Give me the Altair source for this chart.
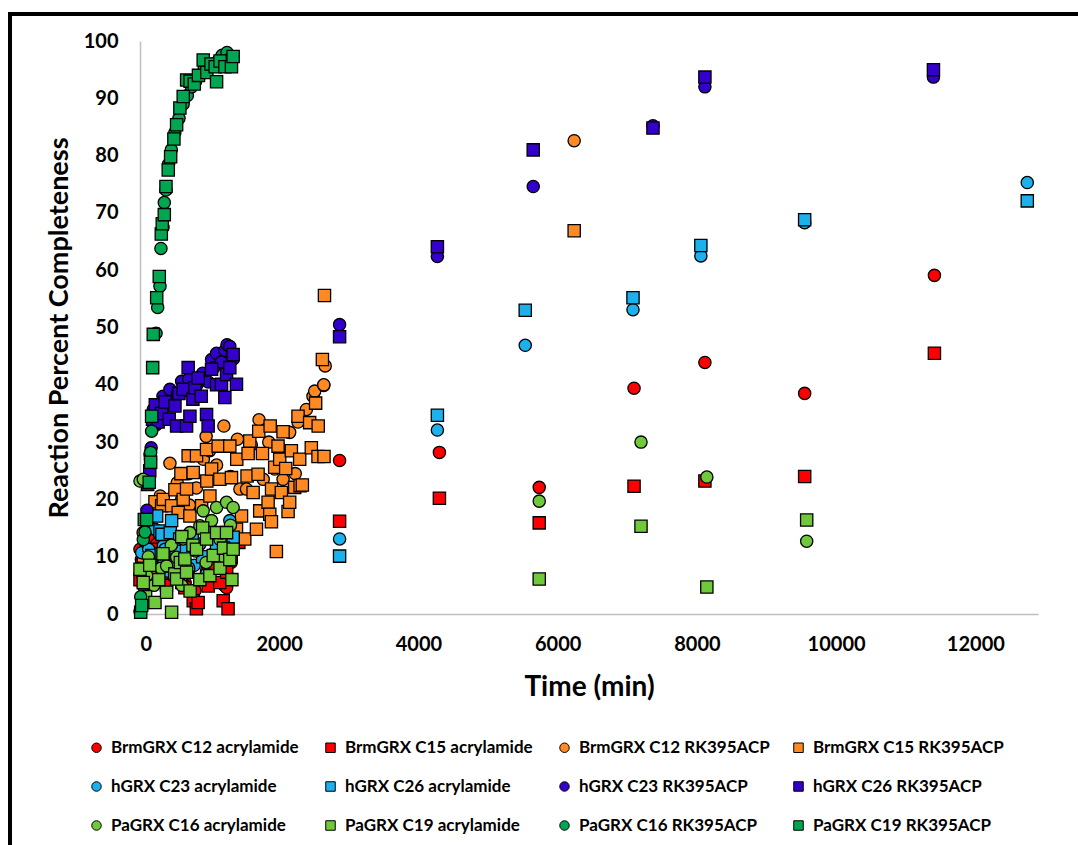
import altair as alt
import pandas as pd

SERIES = [
    "BrmGRX C12 acrylamide", "BrmGRX C15 acrylamide", "BrmGRX C12 RK395ACP", "BrmGRX C15 RK395ACP",
    "hGRX C23 acrylamide", "hGRX C26 acrylamide", "hGRX C23 RK395ACP", "hGRX C26 RK395ACP",
    "PaGRX C16 acrylamide", "PaGRX C19 acrylamide", "PaGRX C16 RK395ACP", "PaGRX C19 RK395ACP",
]
COLORS = ["#FF0000", "#FF0000", "#FF8A24", "#FF8A24",
          "#1CB0EC", "#1CB0EC", "#3300CC", "#3300CC",
          "#70C93A", "#70C93A", "#00A650", "#00A650"]
SHAPES = ["circle", "square"] * 6

# ---- data: time (min), reaction percent completeness ----
brm_c12_acr_t = [0, 20, 45, 90, 140, 165, 240, 290, 335, 430, 500, 575, 645, 715, 790, 860, 955, 1030, 1120, 1220, 1245, 1310,
                 2867, 4301, 5735, 7097, 8115, 9548, 11412]
brm_c12_acr_v = [11.3, 9.5, 7.0, 12.0, 13.0, 10.5, 12.2, 9.0, 8.0, 6.5, 9.5, 7.5, 5.5, 8.0, 4.1, 6.0, 7.5, 5.5, 8.5, 4.9, 4.6, 9.0,
                 26.8, 28.2, 22.1, 39.4, 43.9, 38.5, 59.1]

brm_c15_acr_t = [0, 25, 50, 100, 170, 240, 310, 380, 455, 525, 600, 645, 765, 810, 835, 980, 1050, 1145, 1195, 1245, 1265, 1310, 1420,
                 2867, 4301, 5735, 7097, 8115, 9548, 11412]
brm_c15_acr_v = [6.0, 8.5, 10.0, 7.0, 9.0, 11.3, 6.5, 5.0, 8.0, 7.0, 5.5, 4.6, 2.3, 0.9, 2.0, 4.9, 8.0, 5.5, 2.3, 7.3, 0.9, 10.0, 12.5,
                 16.2, 20.2, 15.9, 22.3, 23.2, 24.0, 45.5]

brm_c12_rk_t = [45, 120, 190, 290, 310, 430, 535, 600, 700, 710, 810, 910, 950, 1000, 1100, 1205, 1300, 1400, 1435, 1530, 1600,
                1710, 1770, 1850, 1935, 2000, 2055, 2150, 2230, 2270, 2390, 2485, 2510, 2640, 2660, 2640, 6237]
brm_c12_rk_v = [14.2, 16.5, 17.7, 20.6, 18.9, 26.3, 22.9, 20.0, 24.5, 19.0, 22.0, 27.0, 31.0, 28.5, 26.0, 32.8, 24.0, 30.5, 21.8, 21.8, 29.5,
                33.9, 23.5, 30.0, 25.3, 29.0, 23.5, 31.7, 24.5, 33.5, 35.7, 38.0, 38.9, 39.9, 43.3, 40.0, 82.6]

brm_c15_rk_t = [50, 143, 215, 311, 334, 454, 502, 549, 588, 621, 669, 692, 717, 764, 812, 885, 956, 960, 1004, 1028, 1123, 1147,
                1290, 1314, 1386, 1390, 1458, 1505, 1538, 1553, 1577, 1625, 1673, 1696, 1706, 1720, 1759, 1840, 1864, 1870,
                1888, 1890, 1935, 1959, 1983, 2007, 2031, 2055, 2093, 2127, 2150, 2174, 2222, 2270, 2294, 2300, 2332, 2437,
                2461, 2523, 2557, 2560, 2643, 2620, 2650, 6237]
brm_c15_rk_v = [10.0, 6.7, 19.6, 18.9, 20.0, 18.9, 21.7, 17.7, 24.5, 20.0, 21.8, 27.6, 17.1, 24.7, 27.6, 18.9, 28.7, 23.2, 20.6, 25.3, 29.3, 23.5,
                29.3, 23.8, 14.8, 27.0, 17.1, 13.1, 24.1, 28.0, 30.2, 21.2, 14.8, 24.4, 31.9, 18.0, 28.0, 19.5, 17.4, 32.8,
                16.1, 21.8, 25.6, 10.9, 29.3, 27.0, 21.2, 31.8, 25.4, 17.9, 19.5, 28.5, 22.1, 34.5, 27.0, 22.4, 22.5, 33.4,
                29.0, 36.8, 27.5, 32.8, 27.5, 44.4, 55.6, 66.9]

h_c23_acr_t = [24, 119, 125, 215, 250, 334, 358, 400, 502, 621, 700, 780, 860, 956, 1050, 1150, 1195, 1290,
               2867, 4272, 5534, 7082, 8057, 9548, 12746]
h_c23_acr_v = [10.7, 14.8, 11.3, 14.8, 9.0, 11.9, 11.3, 7.5, 8.7, 9.9, 12.0, 8.5, 12.2, 7.0, 10.5, 9.5, 13.9, 16.3,
               13.1, 32.1, 46.9, 53.1, 62.5, 68.3, 75.3]

h_c26_acr_t = [60, 160, 170, 239, 287, 305, 315, 425, 435, 454, 520, 570, 580, 669, 750, 900, 1000, 1100, 1200, 1338,
               2867, 4272, 5534, 7082, 8057, 9548, 12746]
h_c26_acr_v = [8.0, 9.6, 10.2, 17.1, 14.5, 10.5, 13.9, 8.4, 14.2, 16.3, 11.0, 13.1, 6.7, 11.6, 13.5, 10.0, 14.5, 12.0, 9.5, 13.4,
               10.1, 34.7, 53.0, 55.2, 64.3, 68.8, 72.1]

h_c23_rk_t = [47, 100, 150, 160, 191, 230, 287, 330, 380, 430, 480, 540, 598, 650, 700, 760, 820, 900, 980, 1028, 1060, 1100,
              1171, 1220, 1250, 1290, 1320, 1340,
              2867, 4272, 5649, 7369, 8115, 11398]
h_c23_rk_v = [4.9, 18.1, 27.0, 29.0, 35.7, 33.0, 36.3, 38.0, 36.5, 39.2, 37.0, 38.5, 40.6, 39.0, 41.0, 38.5, 40.0, 42.0, 40.5, 44.4, 43.0, 45.5,
              44.0, 46.0, 47.0, 46.7, 45.0, 44.5,
              50.5, 62.4, 74.6, 85.2, 92.0, 93.7]

h_c26_rk_t = [47, 110, 140, 180, 220, 260, 310, 360, 420, 502, 526, 560, 621, 669, 692, 717, 760, 789, 836, 880, 956, 979,
              1028, 1100, 1171, 1219, 1243, 1290, 1338, 1386,
              2867, 4272, 5649, 7369, 8115, 11398]
h_c26_rk_v = [2.0, 22.6, 25.0, 34.0, 36.5, 33.5, 35.0, 37.0, 34.0, 36.3, 32.8, 38.5, 39.2, 32.8, 43.0, 34.5, 37.5, 39.5, 41.2, 38.0, 34.8, 32.8,
              42.7, 40.0, 40.1, 37.8, 41.8, 43.0, 45.3, 40.1,
              48.4, 64.1, 81.0, 84.8, 93.7, 95.0]

pa_c16_acr_t = [0, 30, 47, 96, 120, 200, 300, 382, 450, 526, 600, 621, 700, 717, 800, 860, 908, 950, 1028, 1100, 1150, 1200,
                1243, 1300, 1338,
                5735, 7197, 8143, 9577]
pa_c16_acr_v = [23.2, 7.0, 23.5, 6.7, 10.0, 5.0, 8.0, 8.4, 12.0, 9.9, 5.0, 13.1, 8.0, 14.2, 11.0, 15.4, 18.0, 9.0, 16.3, 18.6, 13.0, 10.0,
                19.5, 15.5, 18.6,
                19.7, 30.0, 23.9, 12.7]

pa_c19_acr_t = [0, 47, 80, 140, 215, 270, 330, 382, 454, 500, 526, 580, 600, 645, 669, 720, 760, 812, 860, 900, 956, 1004,
                1052, 1100, 1150, 1200, 1243, 1290, 1320, 1338,
                5735, 7197, 8143, 9577]
pa_c19_acr_v = [7.8, 5.5, 3.0, 8.5, 2.0, 6.0, 10.5, 3.8, 0.3, 7.0, 6.1, 9.0, 13.5, 9.6, 7.3, 4.0, 12.0, 11.3, 6.0, 15.0, 13.1, 6.7,
                10.2, 14.2, 8.0, 11.5, 14.2, 9.5, 6.0, 11.3,
                6.1, 15.3, 4.7, 16.4]

pa_c16_rk_t = [0, 10, 47, 72, 143, 153, 167, 230, 254, 287, 301, 330, 349, 373, 410, 450, 500, 560, 620, 680, 740, 800,
               860, 920, 980, 1050, 1120, 1180, 1250, 1300]
pa_c16_rk_v = [0.5, 3.0, 13.0, 14.3, 27.9, 28.2, 31.9, 49.0, 53.5, 57.2, 63.8, 67.5, 71.8, 74.0, 78.5, 81.0, 84.0, 86.5, 89.0, 90.5, 92.0, 93.0,
               94.0, 95.0, 95.5, 96.0, 96.5, 97.5, 98.0, 97.0]

pa_c19_rk_t = [10, 24, 62, 96, 133, 153, 167, 182, 191, 240, 277, 306, 320, 349, 373, 406, 440, 487, 526, 573, 621, 670,
               720, 780, 840, 908, 960, 1020, 1080, 1100, 1150, 1220, 1314, 1338]
pa_c19_rk_v = [0.3, 1.5, 16.5, 16.5, 23.0, 26.5, 34.5, 43.0, 48.8, 55.2, 58.9, 66.3, 68.1, 69.7, 74.6, 77.5, 79.8, 82.9, 85.4, 88.3, 90.3, 93.2,
               93.0, 92.5, 94.0, 96.7, 94.5, 96.0, 95.5, 92.9, 96.5, 95.5, 95.5, 97.3]

ALL = [
    (brm_c12_acr_t, brm_c12_acr_v), (brm_c15_acr_t, brm_c15_acr_v),
    (brm_c12_rk_t, brm_c12_rk_v), (brm_c15_rk_t, brm_c15_rk_v),
    (h_c23_acr_t, h_c23_acr_v), (h_c26_acr_t, h_c26_acr_v),
    (h_c23_rk_t, h_c23_rk_v), (h_c26_rk_t, h_c26_rk_v),
    (pa_c16_acr_t, pa_c16_acr_v), (pa_c19_acr_t, pa_c19_acr_v),
    (pa_c16_rk_t, pa_c16_rk_v), (pa_c19_rk_t, pa_c19_rk_v),
]

rows = []
for name, (ts, vs) in zip(SERIES, ALL):
    for t, v in zip(ts, vs):
        rows.append({"series": name, "time": t, "pct": v})
df = pd.DataFrame(rows)
df["idx"] = range(len(df))

FONT = "Lato"

points = alt.Chart(df).mark_point(
    filled=True, stroke="black", strokeWidth=1.3, opacity=1, size=150
).encode(
    x=alt.X("time:Q", title="Time (min)",
            scale=alt.Scale(domain=[0, 12900], nice=False, zero=True),
            axis=alt.Axis(values=[0, 2000, 4000, 6000, 8000, 10000, 12000], format="d", grid=False, ticks=False,
                          domainColor="#BFBFBF", domainWidth=1.5, labelFont=FONT, labelFontSize=20,
                          labelFontWeight="bold", labelColor="black", labelPadding=20,
                          titleFont=FONT, titleFontSize=28, titleFontWeight="bold", titleColor="black",
                          titlePadding=19)),
    y=alt.Y("pct:Q", title="Reaction Percent Completeness",
            scale=alt.Scale(domain=[0, 100], nice=False),
            axis=alt.Axis(values=list(range(0, 101, 10)), grid=False, ticks=False,
                          domainColor="#BFBFBF", domainWidth=1.5, labelFont=FONT, labelFontSize=20,
                          labelFontWeight="bold", labelColor="black", labelPadding=22,
                          titleFont=FONT, titleFontSize=27, titleFontWeight="bold", titleColor="black",
                          titlePadding=10)),
    color=alt.Color("series:N", scale=alt.Scale(domain=SERIES, range=COLORS),
                    legend=alt.Legend(title=None, orient="none", legendX=-52, legendY=698, columns=4,
                                      direction="horizontal", gridAlign="all", columnPadding=20, rowPadding=21,
                                      labelFont=FONT, labelFontSize=17, labelFontWeight="bold",
                                      labelColor="black", labelLimit=400, symbolSize=90,
                                      symbolStrokeColor="black", symbolStrokeWidth=1, labelOffset=6,
                                      padding=0)),
    shape=alt.Shape("series:N", scale=alt.Scale(domain=SERIES, range=SHAPES)),
    order=alt.Order("idx:Q"),
)

frame = alt.Chart(df).mark_rect(fill=None, stroke="black", strokeWidth=3, clip=False).encode(
    x=alt.value(-130), y=alt.value(-27), x2=alt.value(960), y2=alt.value(830)
)

chart = alt.layer(frame, points).properties(
    width=898, height=573,
    padding={"left": 140, "top": 41, "right": 40, "bottom": 231},
    autosize=alt.AutoSizeParams(type="none"),
).configure_view(stroke=None)

chart.save("out.html", embed_options={"renderer": "svg", "actions": False})
